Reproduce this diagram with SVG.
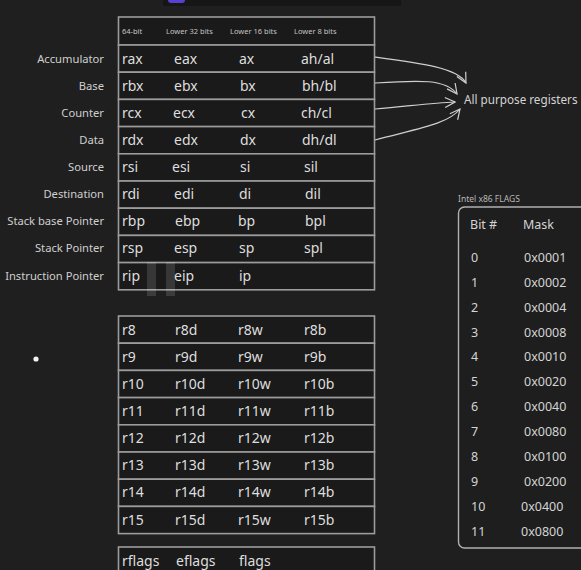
<svg xmlns="http://www.w3.org/2000/svg" width="581" height="570" viewBox="0 0 581 570">
<defs>
<style>
text{font-family:"Noto Sans","Open Sans",sans-serif;}
.lbl{font-size:11.2px;fill:#cfcfcf;text-anchor:end;}
.hd{font-size:7.5px;fill:#c4c4c4;}
.reg{font-size:14px;fill:#dedede;}
.row{fill:#1a1a1a;stroke:#9c9c9c;stroke-width:1.6;}
.fl{font-size:12.5px;fill:#d4d4d4;}
.conn{fill:none;stroke:#cfcfcf;stroke-width:1.2;}
</style>
<marker id="ah" viewBox="0 0 12 12" refX="11" refY="6" markerWidth="12" markerHeight="12" markerUnits="userSpaceOnUse" orient="auto">
<path d="M1,1 L11,6 L1,11" fill="none" stroke="#cfcfcf" stroke-width="1.2"/>
</marker>
</defs>
<rect x="0" y="0" width="581" height="570" fill="#1f1f1f"/>
<rect x="163" y="0" width="238" height="6" fill="#161616"/>
<rect x="168" y="-6" width="17" height="9" rx="3" fill="#5a3fd2"/>
<circle cx="36" cy="359" r="2.6" fill="#f2f2f2"/>

<g id="labels">
<text class="lbl" x="104" y="63">Accumulator</text>
<text class="lbl" x="104" y="90">Base</text>
<text class="lbl" x="104" y="117">Counter</text>
<text class="lbl" x="104" y="144">Data</text>
<text class="lbl" x="104" y="171">Source</text>
<text class="lbl" x="104" y="198">Destination</text>
<text class="lbl" x="104" y="225">Stack base Pointer</text>
<text class="lbl" x="104" y="252">Stack Pointer</text>
<text class="lbl" x="104" y="280">Instruction Pointer</text>
</g>

<g id="main-table">
<rect class="row" x="118.5" y="17" width="256" height="28"/>
<text class="hd" x="122" y="34">64-bit</text>
<text class="hd" x="166" y="34">Lower 32 bits</text>
<text class="hd" x="230" y="34">Lower 16 bits</text>
<text class="hd" x="294" y="34">Lower 8 bits</text>
<g id="row-rax"><rect class="row" x="118.5" y="45" width="256" height="27.2"/><text class="reg" x="122" y="64">rax</text><text class="reg" x="174" y="64">eax</text><text class="reg" x="239" y="64">ax</text><text class="reg" x="301" y="64">ah/al</text></g>
<g id="row-rbx"><rect class="row" x="118.5" y="72.2" width="256" height="27.2"/><text class="reg" x="122" y="91">rbx</text><text class="reg" x="174" y="91">ebx</text><text class="reg" x="240" y="91">bx</text><text class="reg" x="302" y="91">bh/bl</text></g>
<g id="row-rcx"><rect class="row" x="118.5" y="99.4" width="256" height="27.2"/><text class="reg" x="122" y="118">rcx</text><text class="reg" x="173" y="118">ecx</text><text class="reg" x="241" y="118">cx</text><text class="reg" x="301" y="118">ch/cl</text></g>
<g id="row-rdx"><rect class="row" x="118.5" y="126.6" width="256" height="27.2"/><text class="reg" x="122" y="145">rdx</text><text class="reg" x="174" y="145">edx</text><text class="reg" x="240" y="145">dx</text><text class="reg" x="302" y="145">dh/dl</text></g>
<g id="row-rsi"><rect class="row" x="118.5" y="153.8" width="256" height="27.2"/><text class="reg" x="122" y="172">rsi</text><text class="reg" x="172" y="172">esi</text><text class="reg" x="240" y="172">si</text><text class="reg" x="304" y="172">sil</text></g>
<g id="row-rdi"><rect class="row" x="118.5" y="181" width="256" height="27.2"/><text class="reg" x="122" y="199">rdi</text><text class="reg" x="174" y="199">edi</text><text class="reg" x="239" y="199">di</text><text class="reg" x="305" y="199">dil</text></g>
<g id="row-rbp"><rect class="row" x="118.5" y="208.2" width="256" height="27.2"/><text class="reg" x="122" y="226">rbp</text><text class="reg" x="175" y="226">ebp</text><text class="reg" x="238" y="226">bp</text><text class="reg" x="305" y="226">bpl</text></g>
<g id="row-rsp"><rect class="row" x="118.5" y="235.4" width="256" height="27.2"/><text class="reg" x="122" y="253">rsp</text><text class="reg" x="174" y="253">esp</text><text class="reg" x="239" y="253">sp</text><text class="reg" x="304" y="253">spl</text></g>
<g id="row-rip"><rect class="row" x="118.5" y="262.6" width="256" height="27.2"/><text class="reg" x="122" y="281">rip</text><text class="reg" x="174" y="281">eip</text><text class="reg" x="239" y="281">ip</text></g>
</g>
<rect x="147" y="262" width="9" height="34" fill="#ffffff" fill-opacity="0.13"/>
<rect x="166" y="262" width="9" height="34" fill="#ffffff" fill-opacity="0.13"/>

<g id="connectors">
<path class="conn" d="M375,57 C420,63 458,68 466,83" marker-end="url(#ah)"/>
<path class="conn" d="M375,83 C420,80 446,79 457,94" marker-end="url(#ah)"/>
<path class="conn" d="M375,109 C410,106 432,103 455,102" marker-end="url(#ah)"/>
<path class="conn" d="M375,140 C420,128 448,124 460,109" marker-end="url(#ah)"/>
</g>
<g id="all-purpose">
<text x="464" y="104" font-size="11.7" fill="#d4d4d4">All purpose registers</text>
</g>

<g id="ext-table">
<g><rect class="row" x="118.5" y="316" width="256" height="27.2"/><text class="reg" x="122" y="335">r8</text><text class="reg" x="175" y="335">r8d</text><text class="reg" x="238" y="335">r8w</text><text class="reg" x="304" y="335">r8b</text></g>
<g><rect class="row" x="118.5" y="343.2" width="256" height="27.2"/><text class="reg" x="122" y="362">r9</text><text class="reg" x="175" y="362">r9d</text><text class="reg" x="238" y="362">r9w</text><text class="reg" x="304" y="362">r9b</text></g>
<g><rect class="row" x="118.5" y="370.4" width="256" height="27.2"/><text class="reg" x="122" y="389">r10</text><text class="reg" x="175" y="389">r10d</text><text class="reg" x="238" y="389">r10w</text><text class="reg" x="304" y="389">r10b</text></g>
<g><rect class="row" x="118.5" y="397.6" width="256" height="27.2"/><text class="reg" x="122" y="416">r11</text><text class="reg" x="175" y="416">r11d</text><text class="reg" x="238" y="416">r11w</text><text class="reg" x="304" y="416">r11b</text></g>
<g><rect class="row" x="118.5" y="424.8" width="256" height="27.2"/><text class="reg" x="122" y="443">r12</text><text class="reg" x="175" y="443">r12d</text><text class="reg" x="238" y="443">r12w</text><text class="reg" x="304" y="443">r12b</text></g>
<g><rect class="row" x="118.5" y="452" width="256" height="27.2"/><text class="reg" x="122" y="470">r13</text><text class="reg" x="175" y="470">r13d</text><text class="reg" x="238" y="470">r13w</text><text class="reg" x="304" y="470">r13b</text></g>
<g><rect class="row" x="118.5" y="479.2" width="256" height="27.2"/><text class="reg" x="122" y="497">r14</text><text class="reg" x="175" y="497">r14d</text><text class="reg" x="238" y="497">r14w</text><text class="reg" x="304" y="497">r14b</text></g>
<g><rect class="row" x="118.5" y="506.4" width="256" height="27.2"/><text class="reg" x="122" y="525">r15</text><text class="reg" x="175" y="525">r15d</text><text class="reg" x="238" y="525">r15w</text><text class="reg" x="304" y="525">r15b</text></g>
</g>

<g id="flags-row">
<rect class="row" x="118.5" y="547" width="256" height="30"/>
<text class="reg" x="122" y="566">rflags</text><text class="reg" x="176" y="566">eflags</text><text class="reg" x="239" y="566">flags</text>
</g>

<g id="intel-flags">
<text x="458" y="202" font-size="8.5" fill="#b8b8b8">Intel x86 FLAGS</text>
<rect x="458.5" y="207" width="140" height="341" rx="6" fill="#1e1e1e" stroke="#b0b0b0" stroke-width="1.4"/>
<text class="fl" x="470" y="229">Bit #</text><text class="fl" x="523" y="229">Mask</text>
<text class="fl" x="471" y="262">0</text><text class="fl" x="524" y="262">0x0001</text>
<text class="fl" x="471" y="287">1</text><text class="fl" x="524" y="287">0x0002</text>
<text class="fl" x="471" y="312">2</text><text class="fl" x="524" y="312">0x0004</text>
<text class="fl" x="471" y="337">3</text><text class="fl" x="524" y="337">0x0008</text>
<text class="fl" x="471" y="361">4</text><text class="fl" x="524" y="361">0x0010</text>
<text class="fl" x="471" y="386">5</text><text class="fl" x="524" y="386">0x0020</text>
<text class="fl" x="471" y="411">6</text><text class="fl" x="524" y="411">0x0040</text>
<text class="fl" x="471" y="436">7</text><text class="fl" x="524" y="436">0x0080</text>
<text class="fl" x="471" y="461">8</text><text class="fl" x="524" y="461">0x0100</text>
<text class="fl" x="471" y="486">9</text><text class="fl" x="524" y="486">0x0200</text>
<text class="fl" x="471" y="511">10</text><text class="fl" x="521" y="511">0x0400</text>
<text class="fl" x="471" y="536">11</text><text class="fl" x="521" y="536">0x0800</text>
</g>
</svg>
